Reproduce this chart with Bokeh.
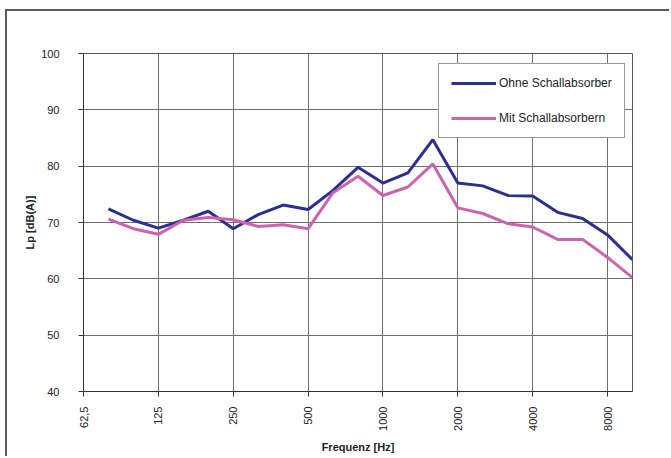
import math
from bokeh.plotting import figure
from bokeh.models import ColumnDataSource, FixedTicker, Legend, LegendItem
from bokeh.embed import file_html
from bokeh.resources import INLINE

# third-octave bands (Hz); index 0 = 62.5 Hz (63 Hz band)
bands = ["63", "80", "100", "125", "160", "200", "250", "315", "400", "500", "630",
         "800", "1000", "1250", "1600", "2000", "2500", "3150", "4000", "5000",
         "6300", "8000", "10000"]
data_bands = bands[1:]

ohne = [72.4, 70.4, 69.0, 70.4, 72.0, 68.9, 71.4, 73.1, 72.3, 75.7, 79.8,
        77.0, 78.8, 84.7, 77.0, 76.5, 74.8, 74.7, 71.8, 70.7, 67.8, 63.4]
mit = [70.6, 68.9, 67.9, 70.4, 70.9, 70.5, 69.3, 69.6, 68.9, 75.3, 78.2,
       74.8, 76.3, 80.4, 72.6, 71.6, 69.8, 69.2, 67.0, 67.0, 63.8, 60.2]

octave_bands = ["63", "125", "250", "500", "1000", "2000", "4000", "8000"]
octave_labels = ["62,5", "125", "250", "500", "1000", "2000", "4000", "8000"]

x = [bands.index(b) for b in data_bands]
src = ColumnDataSource(dict(x=x, ohne=ohne, mit=mit))
oct_idx = [bands.index(b) for b in octave_bands]

FONT = "Liberation Sans"

p = figure(width=664, height=447, x_range=(0, len(bands) - 1), y_range=(40, 100),
           output_backend="svg", toolbar_location=None,
           min_border_left=76, min_border_right=39, min_border_top=42, min_border_bottom=67)
p.styles = {"margin-left": "5px", "margin-top": "9px",
            "border-left": "2px solid #5a5a5a", "border-top": "2px solid #5a5a5a"}
p.background_fill_color = "white"
p.border_fill_color = "white"
p.outline_line_color = "#555555"
p.outline_line_width = 1

p.xaxis.ticker = FixedTicker(ticks=oct_idx)
p.xaxis.major_label_overrides = {i: l for i, l in zip(oct_idx, octave_labels)}
p.xgrid.ticker = FixedTicker(ticks=oct_idx)
p.yaxis.ticker = FixedTicker(ticks=[40, 50, 60, 70, 80, 90, 100])

for g in (p.xgrid, p.ygrid):
    g.grid_line_color = "#6e6e6e"
    g.grid_line_width = 1

for ax in (p.xaxis, p.yaxis):
    ax.axis_line_color = "#333333"
    ax.major_tick_line_color = "#333333"
    ax.major_tick_out = 5
    ax.major_tick_in = 0
    ax.minor_tick_line_color = None
    ax.major_label_text_font = FONT
    ax.major_label_text_font_size = "11px"
    ax.major_label_text_color = "#222222"
    ax.axis_label_text_font = FONT
    ax.axis_label_text_font_size = "11px"
    ax.axis_label_text_font_style = "bold"
    ax.axis_label_text_color = "#222222"

p.xaxis.major_label_orientation = math.pi / 2
p.xaxis.major_label_standoff = 10
p.xaxis.axis_label = "Frequenz [Hz]"
p.xaxis.axis_label_standoff = 7
p.yaxis.axis_label = "Lp [dB(A)]"
p.yaxis.major_label_standoff = 19
p.yaxis.axis_label_standoff = 2

r1 = p.line("x", "ohne", source=src, line_color="#2b2f8f", line_width=3)
r2 = p.line("x", "mit", source=src, line_color="#cf62ad", line_width=3)

legend = Legend(items=[LegendItem(label="Ohne Schallabsorber", renderers=[r1]),
                       LegendItem(label="Mit Schallabsorbern", renderers=[r2])],
                location=(355, 253), margin=0, padding=12, spacing=21,
                glyph_width=45, glyph_height=12, label_height=12, label_width=20,
                label_standoff=3)
legend.border_line_color = "#333333"
legend.border_line_width = 1
legend.background_fill_color = "white"
legend.background_fill_alpha = 1
legend.label_text_font = FONT
legend.label_text_font_size = "12px"
legend.label_text_color = "#222222"
p.add_layout(legend, "center")

open("out.html", "w").write(file_html(p, INLINE))
